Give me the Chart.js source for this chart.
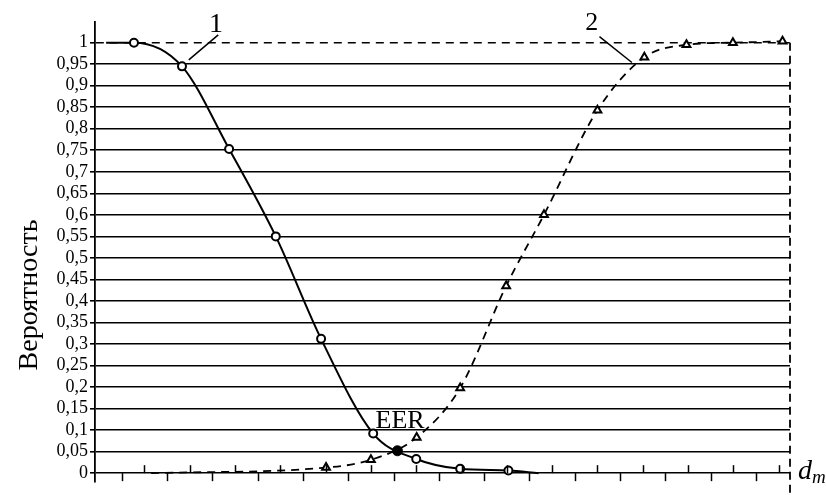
<!DOCTYPE html>
<html>
<head>
<meta charset="utf-8">
<script src="https://cdn.jsdelivr.net/npm/chart.js@4.4.0/dist/chart.umd.min.js"></script>
<style>
html, body { margin: 0; padding: 0; background: #fff; }
#wrap { width: 826px; height: 495px; }
</style>
</head>
<body>
<div id="wrap"><canvas id="prob-chart" width="826" height="495"></canvas></div>
<script>
// curve 1 (solid, circles) and curve 2 (dashed, triangles)
var curve1X = [-0.69, 0.54, 2.66, 4.74, 6.8, 8.8, 11.1, 13.0, 14.94, 17.07, 18.4];
var curve1Y = [1.0, 1.0, 0.945, 0.753, 0.55, 0.312, 0.092, 0.033, 0.01, 0.006, 0.0];
var curve2X = [1.3, 9.02, 11.0, 13.02, 14.94, 16.97, 18.64, 21.0, 23.07, 24.93, 26.98, 29.17];
var curve2Y = [0.0, 0.013, 0.031, 0.083, 0.198, 0.435, 0.60, 0.843, 0.966, 0.995, 1.0, 1.003];
var eerX = [12.17];
var eerY = [0.052];
var yTicks = [0, 0.05, 0.1, 0.15, 0.2, 0.25, 0.3, 0.35, 0.4, 0.45, 0.5, 0.55, 0.6, 0.65, 0.7, 0.75, 0.8, 0.85, 0.9, 0.95, 1];
var xTicks = [0, 1, 2, 3, 4, 5, 6, 7, 8, 9, 10, 11, 12, 13, 14, 15, 16, 17, 18, 19, 20, 21, 22, 23, 24, 25, 26, 27, 28, 29];
var yTitle = 'Вероятность';
var xTitle = 'd';
var xTitleSub = 'm';

(function () {
    'use strict';
    var SERIF = '"Liberation Serif", "Times New Roman", serif';

    function pts(xs, ys) {
        return xs.map(function (x, i) { return { x: x, y: ys[i] }; });
    }

    var frame = {
        id: 'frame',
        afterDraw: function (chart) {
            var c = chart.ctx, xs = chart.scales.x, ys = chart.scales.y, a = chart.chartArea;
            var y0 = ys.getPixelForValue(0);
            c.save();
            c.strokeStyle = '#000';
            c.lineWidth = 1.5;
            // alternating ticks on the abscissa
            xTicks.forEach(function (t, i) {
                var px = Math.round(xs.getPixelForValue(t)) + 0.5;
                c.beginPath();
                if (i % 2 === 0) { c.moveTo(px, y0); c.lineTo(px, y0 + 8); }
                else { c.moveTo(px, y0 - 8); c.lineTo(px, y0); }
                c.stroke();
            });
            // right dashed border
            c.setLineDash([8, 5]);
            c.lineWidth = 1.8;
            c.beginPath();
            c.moveTo(a.right, ys.getPixelForValue(1));
            c.lineTo(a.right, chart.height);
            c.stroke();
            c.setLineDash([]);
            // leader lines
            c.lineWidth = 1.5;
            c.beginPath();
            c.moveTo(xs.getPixelForValue(2.96), ys.getPixelForValue(0.96));
            c.lineTo(xs.getPixelForValue(4.26), ys.getPixelForValue(1.018));
            c.moveTo(xs.getPixelForValue(21.09), ys.getPixelForValue(1.014));
            c.lineTo(xs.getPixelForValue(22.52), ys.getPixelForValue(0.954));
            c.stroke();
            // labels
            c.fillStyle = '#000';
            c.textAlign = 'center';
            c.textBaseline = 'alphabetic';
            c.font = '28px ' + SERIF;
            c.fillText('1', xs.getPixelForValue(4.16), ys.getPixelForValue(1.0247));
            c.font = '26px ' + SERIF;
            c.fillText('2', xs.getPixelForValue(20.75), ys.getPixelForValue(1.029));
            c.fillText('EER', xs.getPixelForValue(12.29), ys.getPixelForValue(0.106));
            // axis titles
            c.textAlign = 'left';
            c.font = 'italic 28px ' + SERIF;
            var dx = a.right + 8;
            c.fillText(xTitle, dx, y0 + 6);
            var dw = c.measureText(xTitle).width;
            c.font = 'italic 19px ' + SERIF;
            c.fillText(xTitleSub, dx + dw, y0 + 10);
            c.translate(37, 295);
            c.rotate(-Math.PI / 2);
            c.textAlign = 'center';
            c.font = '28px ' + SERIF;
            c.fillText(yTitle, 0, 0);
            c.restore();
        }
    };

    var ctx = document.getElementById('prob-chart');
    new Chart(ctx, {
        type: 'line',
        data: {
            datasets: [{
                label: '1',
                data: pts(curve1X, curve1Y),
                borderColor: '#000',
                borderWidth: 2,
                cubicInterpolationMode: 'monotone',
                pointStyle: 'circle',
                pointRadius: function (c) { return (c.dataIndex === 0 || c.dataIndex === curve1X.length - 1) ? 0 : 4; },
                pointBackgroundColor: '#fff',
                pointBorderColor: '#000',
                pointBorderWidth: 2,
                clip: false
            }, {
                label: '2',
                data: pts(curve2X, curve2Y),
                borderColor: '#000',
                borderWidth: 1.8,
                borderDash: [8, 6],
                cubicInterpolationMode: 'monotone',
                pointStyle: 'triangle',
                pointRadius: function (c) { return c.dataIndex === 0 ? 0 : 4.5; },
                pointBackgroundColor: '#fff',
                pointBorderColor: '#000',
                pointBorderWidth: 2,
                clip: false
            }, {
                label: 'EER',
                data: pts(eerX, eerY),
                showLine: false,
                pointStyle: 'circle',
                pointRadius: 5,
                pointBackgroundColor: '#000',
                pointBorderColor: '#000',
                pointBorderWidth: 1
            }]
        },
        options: {
            responsive: false,
            animation: false,
            layout: { padding: { left: 0, right: 36, top: 22, bottom: 10 } },
            plugins: { legend: { display: false }, tooltip: { enabled: false } },
            scales: {
                x: { type: 'linear', min: -1.18, max: 29.5, display: false },
                y: {
                    type: 'linear',
                    min: -0.021,
                    max: 1.048,
                    afterFit: function (s) { s.width = 95; },
                    afterBuildTicks: function (s) { s.ticks = yTicks.map(function (v) { return { value: v }; }); },
                    grid: {
                        color: '#000',
                        lineWidth: 1.6,
                        drawTicks: true,
                        tickLength: 5,
                        tickColor: '#000',
                        tickWidth: 1.6
                    },
                    border: {
                        display: true,
                        color: '#000',
                        width: 1.8,
                        dash: function (c) { return (c.tick && c.tick.value === 1) ? [8, 6] : []; }
                    },
                    ticks: {
                        color: '#000',
                        padding: 2,
                        autoSkip: false,
                        font: { family: SERIF, size: 18 },
                        callback: function (v) { return String(Math.round(v * 100) / 100).replace('.', ','); }
                    }
                }
            }
        },
        plugins: [frame]
    });
})();
</script>
</body>
</html>
